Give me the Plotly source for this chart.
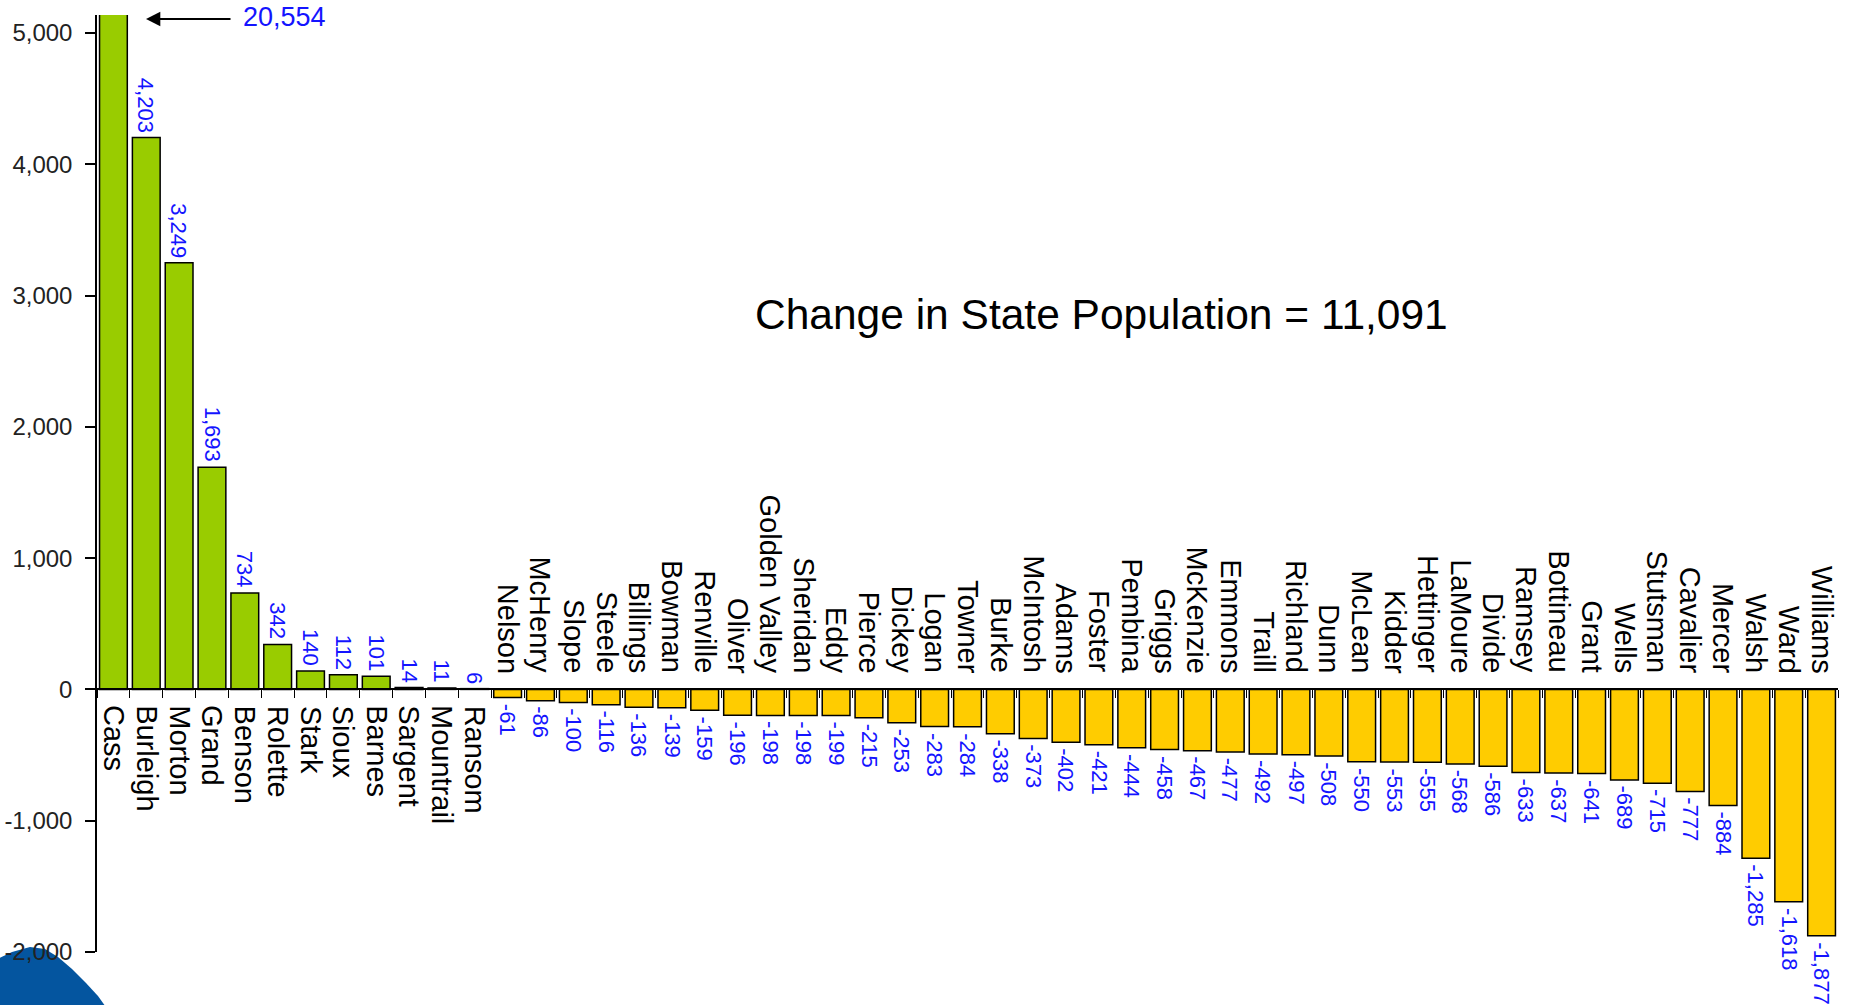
import plotly.graph_objects as go

# ---------------- data ----------------
counties = [
    "Cass", "Burleigh", "Morton", "Grand", "Benson", "Rolette", "Stark", "Sioux",
    "Barnes", "Sargent", "Mountrail", "Ransom", "Nelson", "McHenry", "Slope",
    "Steele", "Billings", "Bowman", "Renville", "Oliver", "Golden Valley",
    "Sheridan", "Eddy", "Pierce", "Dickey", "Logan", "Towner", "Burke",
    "McIntosh", "Adams", "Foster", "Pembina", "Griggs", "McKenzie", "Emmons",
    "Traill", "Richland", "Dunn", "McLean", "Kidder", "Hettinger", "LaMoure",
    "Divide", "Ramsey", "Bottineau", "Grant", "Wells", "Stutsman", "Cavalier",
    "Mercer", "Walsh", "Ward", "Williams",
]
change = [
    20554, 4203, 3249, 1693, 734, 342, 140, 112,
    101, 14, 11, 6, -61, -86, -100,
    -116, -136, -139, -159, -196, -198,
    -198, -199, -215, -253, -283, -284, -338,
    -373, -402, -421, -444, -458, -467, -477,
    -492, -497, -508, -550, -553, -555, -568,
    -586, -633, -637, -641, -689, -715, -777,
    -884, -1285, -1618, -1877,
]
state_change = 11091
y_ticks = [-2000, -1000, 0, 1000, 2000, 3000, 4000, 5000]
y_ticktext = [f"{v:,}" for v in y_ticks]

# ---------------- layout constants ----------------
W, H = 1856, 1005
ML, MR, MT, MB = 97, 18, 15, 53
Y_MIN, Y_MAX = -2000, 5137
FONT = "Liberation Sans, Arial, sans-serif"
BLUE = "#1414ff"


def px_x(p):
    return (p - ML) / (W - ML - MR)


def px_y(p):
    return (H - MB - p) / (H - MT - MB)


colors = ["#99CC00" if v >= 0 else "#FFCC00" for v in change]

fig = go.Figure(
    go.Bar(
        x=counties,
        y=change,
        marker=dict(color=colors, line=dict(color="black", width=1.5)),
        hoverinfo="x+y",
    )
)

annotations = []
for name, v in zip(counties, change):
    # county name on the opposite side of the zero line
    annotations.append(dict(
        x=name, y=0, xref="x", yref="y", text=name, showarrow=False,
        textangle=90, xanchor="center",
        yanchor="top" if v >= 0 else "bottom",
        yshift=-14 if v >= 0 else 14,
        font=dict(family=FONT, size=29, color="black"),
    ))
    # value label at the end of the bar (skip the clipped bar)
    if v <= Y_MAX:
        annotations.append(dict(
            x=name, y=v, xref="x", yref="y", text=f"{v:,}", showarrow=False,
            textangle=90, xanchor="center",
            yanchor="bottom" if v >= 0 else "top",
            yshift=3 if v >= 0 else -4,
            font=dict(family=FONT, size=22, color=BLUE),
        ))

# clipped-bar value with arrow
annotations.append(dict(
    x=px_x(241), y=px_y(17), xref="paper", yref="paper",
    text=f"{change[0]:,}", showarrow=False, xanchor="left", yanchor="middle",
    font=dict(family=FONT, size=27, color=BLUE),
))
annotations.append(dict(
    x=px_x(146), y=px_y(19), xref="paper", yref="paper", text="",
    showarrow=True, ax=86, ay=0, arrowhead=2, arrowsize=1.3, arrowwidth=2.2,
    arrowcolor="black", standoff=0,
))
# title-like statement
annotations.append(dict(
    x=px_x(1101), y=px_y(314), xref="paper", yref="paper",
    text=f"Change in State Population = {state_change:,}", showarrow=False,
    xanchor="center", yanchor="middle",
    font=dict(family=FONT, size=42.5, color="black"),
))

# decorative blue blob in the lower-left corner
blob_pts = [(-5, 960), (12, 952), (30, 947), (45, 949), (58, 957), (72, 969),
            (86, 983), (98, 996), (108, 1010), (-5, 1010)]
path = "M " + " L ".join(f"{px_x(a):.5f},{px_y(b):.5f}" for a, b in blob_pts) + " Z"

fig.update_layout(
    width=W, height=H,
    margin=dict(l=ML, r=MR, t=MT, b=MB, pad=0, autoexpand=False),
    paper_bgcolor="white", plot_bgcolor="white",
    showlegend=False,
    bargap=0.155,
    font=dict(family=FONT, color="#222222"),
    annotations=annotations,
    shapes=[dict(type="path", path=path, xref="paper", yref="paper",
                 fillcolor="#04559f", line=dict(width=0), layer="below")],
    xaxis=dict(
        type="category", anchor="free", automargin=False,
        position=(0 - Y_MIN) / (Y_MAX - Y_MIN),
        showline=True, linecolor="black", linewidth=1.5,
        ticks="outside", tickson="boundaries", ticklen=8, tickwidth=1,
        tickcolor="black", showticklabels=False, showgrid=False,
        zeroline=False, range=[-0.5, len(counties) - 0.5],
    ),
    yaxis=dict(
        range=[Y_MIN, Y_MAX], tickvals=y_ticks, ticktext=y_ticktext,
        automargin=False,
        showline=True, linecolor="black", linewidth=1.5,
        ticks="outside", ticklen=10, tickwidth=1.5, tickcolor="black",
        tickfont=dict(family=FONT, size=24, color="#222222"),
        showgrid=False, zeroline=False, ticklabelstandoff=8,
    ),
)

fig.write_html(
    "out.html",
    config={"displayModeBar": False},
    post_script="document.body.style.margin='0';document.body.style.overflow='hidden';",
)
